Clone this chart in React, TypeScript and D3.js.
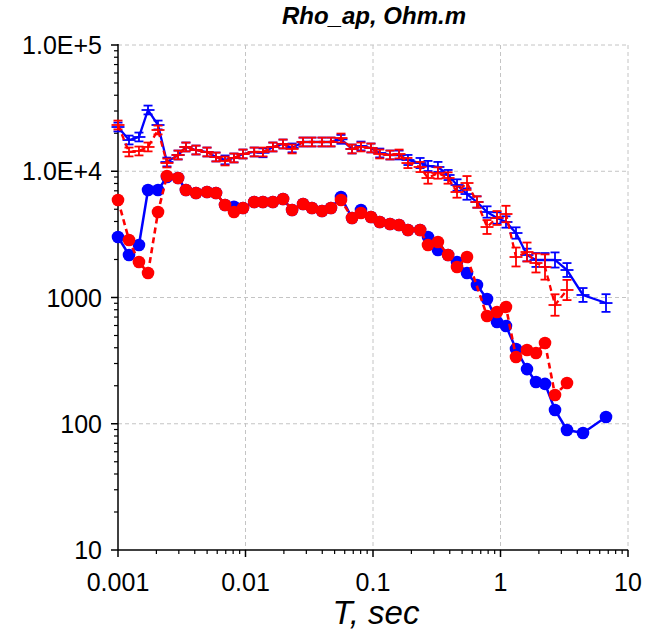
import React from 'react';
import * as d3 from 'd3';

const periods = [0.001, 0.00122, 0.00146, 0.00172, 0.00206, 0.00242, 0.00296, 0.00341, 0.00409, 0.00499, 0.00587, 0.00691, 0.00812, 0.00956, 0.0117, 0.0137, 0.0164, 0.0197, 0.0232, 0.0283, 0.0332, 0.0398, 0.0468, 0.0561, 0.0685, 0.0805, 0.0964, 0.113, 0.136, 0.160, 0.188, 0.234, 0.270, 0.323, 0.388, 0.456, 0.546, 0.654, 0.784, 0.939, 1.104, 1.323, 1.614, 1.898, 2.234, 2.676, 3.323, 4.437, 6.722];

const rhoBlueCircle = [3014, 2171, 2605, 7105, 7105, 9004, 8841, 7105, 6724, 6847, 6724, 5405, 5240, 5115, 5706, 5706, 5706, 6029, 4933, 5504, 5115, 4843, 5115, 6252, 4263, 4933, 4341, 3963, 3822, 3752, 3425, 3425, 3014, 2378, 2171, 1911, 1563, 1256, 973, 640, 595, 391, 271, 214, 207, 128.5, 89.2, 84.5, 113];

const rhoRedCircle: (number | null)[] = [5920, 2853, 1911, 1563, 4756, 9171, 8841, 7105, 6724, 6847, 6724, 5405, 4756, 5115, 5706, 5706, 5706, 6029, 4933, 5504, 5115, 4843, 5115, 5920, 4263, 4670, 4341, 3963, 3822, 3752, 3425, 3425, 2605, 2752, 2171, 1744, 2093, null, 714, 768, 841, 338, 384, 363, 436, 169, 210, null, null];

const rhoBluePlus = [22410, 17680, 18680, 30560, 23250, 11840, 13450, 15570, 14730, 14210, 12970, 12300, 12740, 13700, 14210, 14000, 15570, 16440, 15300, 17050, 17050, 17050, 17050, 17900, 15010, 15850, 15290, 13950, 13450, 13450, 12280, 11620, 11010, 10810, 9340, 7783, 6600, 5706, 4756, 4263, 3963, 3242, 2171, 1982, 1982, 1982, 1651, 1047, 904];

const rhoRedPlus: (number | null)[] = [23250, 14210, 14470, 15570, 21220, 11620, 13450, 15570, 14730, 14210, 12970, 12060, 12740, 13700, 14210, 14210, 15570, 16440, 15010, 17050, 17050, 17050, 17050, 18340, 15010, 15570, 15290, 13700, 13450, 13700, 11620, 10810, 8841, 9685, 8841, 6847, 8070, 5706, 3617, 4263, 4585, 2093, 2293, 1876, 1744, 872, 1147, null, null];

// error half-width in log10 units
const errBluePlus = [0.035, 0.035, 0.035, 0.035, 0.035, 0.035, 0.035, 0.035, 0.035, 0.035, 0.035, 0.035, 0.035, 0.035, 0.035, 0.035, 0.035, 0.035, 0.035, 0.035, 0.035, 0.035, 0.035, 0.035, 0.035, 0.035, 0.035, 0.035, 0.035, 0.035, 0.04, 0.04, 0.04, 0.04, 0.04, 0.045, 0.045, 0.045, 0.045, 0.045, 0.045, 0.045, 0.05, 0.055, 0.055, 0.06, 0.055, 0.055, 0.07];
const errRedPlus = [0.035, 0.035, 0.035, 0.035, 0.035, 0.035, 0.035, 0.035, 0.035, 0.035, 0.035, 0.035, 0.035, 0.035, 0.035, 0.035, 0.035, 0.035, 0.035, 0.035, 0.035, 0.035, 0.035, 0.035, 0.035, 0.035, 0.035, 0.035, 0.035, 0.035, 0.04, 0.04, 0.045, 0.045, 0.045, 0.045, 0.055, 0.045, 0.055, 0.055, 0.065, 0.075, 0.075, 0.075, 0.1, 0.085, 0.08, 0, 0];

const xTicks = [0.001, 0.01, 0.1, 1, 10];
const xTickLabels = ['0.001', '0.01', '0.1', '1', '10'];
const yTicks = [1e5, 1e4, 1000, 100, 10];
const yTickLabels = ['1.0E+5', '1.0E+4', '1000', '100', '10'];

const BLUE = '#0000ff';
const RED = '#ff0000';
const FONT = '"Liberation Sans", Arial, sans-serif';

type P = { t: number; v: number; e: number };

function build(vals: (number | null)[], errs?: number[]): P[] {
  const out: P[] = [];
  periods.forEach((t, i) => {
    const v = vals[i];
    if (v != null) out.push({ t, v, e: errs ? errs[i] : 0 });
  });
  return out;
}

export default function App() {
  const W = 649, H = 632;
  const L = 118, R = 628, T = 45, B = 550;
  const x = d3.scaleLog().domain([0.001, 10]).range([L, R]);
  const y = d3.scaleLog().domain([10, 1e5]).range([B, T]);
  const line = d3.line<P>().x(d => x(d.t)).y(d => y(d.v));

  const xMinor: number[] = [];
  for (let k = -3; k < 1; k++) for (let m = 2; m <= 9; m++) xMinor.push(m * Math.pow(10, k));
  const yMinor: number[] = [];
  for (let k = 1; k < 5; k++) for (let m = 2; m <= 9; m++) yMinor.push(m * Math.pow(10, k));

  const blueC = build(rhoBlueCircle);
  const redC = build(rhoRedCircle);
  const blueP = build(rhoBluePlus, errBluePlus);
  const redP = build(rhoRedPlus, errRedPlus);

  const plusMarks = (pts: P[], color: string) =>
    pts.map((d, i) => {
      const cx = x(d.t), cy = y(d.v);
      const y1 = y(d.v * Math.pow(10, d.e)), y2 = y(d.v / Math.pow(10, d.e));
      return (
        <g key={i} stroke={color} strokeWidth={1.8} fill="none">
          <line x1={cx - 6.5} x2={cx + 6.5} y1={cy} y2={cy} />
          <line x1={cx} x2={cx} y1={y1} y2={y2} />
          <line x1={cx - 4.5} x2={cx + 4.5} y1={y1} y2={y1} />
          <line x1={cx - 4.5} x2={cx + 4.5} y1={y2} y2={y2} />
        </g>
      );
    });

  return (
    <svg width={W} height={H} style={{ position: 'absolute', left: 0, top: 0, background: '#fff' }}>
      <rect x={0} y={0} width={W} height={H} fill="#fff" />
      {/* grid */}
      <g stroke="#c4c4c4" strokeWidth={1} strokeDasharray="4,3">
        {xTicks.slice(1).map((t, i) => (
          <line key={'gx' + i} x1={x(t)} x2={x(t)} y1={T} y2={B} />
        ))}
        {yTicks.slice(0, 4).map((t, i) => (
          <line key={'gy' + i} x1={L} x2={R} y1={y(t)} y2={y(t)} />
        ))}
      </g>
      {/* axes */}
      <g stroke="#000" strokeWidth={1.5}>
        <line x1={L} x2={L} y1={T - 1} y2={B} />
        <line x1={L} x2={R} y1={B} y2={B} />
        {xTicks.map((t, i) => (
          <line key={'xt' + i} x1={x(t)} x2={x(t)} y1={B} y2={B + 7} />
        ))}
        {xMinor.map((t, i) => (
          <line key={'xm' + i} x1={x(t)} x2={x(t)} y1={B} y2={B + 4} strokeWidth={1.2} />
        ))}
        {yTicks.map((t, i) => (
          <line key={'yt' + i} x1={L - 7} x2={L} y1={y(t)} y2={y(t)} />
        ))}
        {yMinor.map((t, i) => (
          <line key={'ym' + i} x1={L - 4} x2={L} y1={y(t)} y2={y(t)} strokeWidth={1.2} />
        ))}
      </g>
      {/* tick labels */}
      <g fontFamily={FONT} fontSize={25} fill="#000">
        {xTicks.map((t, i) => (
          <text key={'xl' + i} x={x(t)} y={591} textAnchor="middle">{xTickLabels[i]}</text>
        ))}
        {yTicks.map((t, i) => (
          <text key={'yl' + i} x={102} y={y(t) + 9} textAnchor="end">{yTickLabels[i]}</text>
        ))}
      </g>
      <text x={374} y={24} textAnchor="middle" fontFamily={FONT} fontSize={24} fontWeight="bold" fontStyle="italic">Rho_ap, Ohm.m</text>
      <text x={376} y={624} textAnchor="middle" fontFamily={FONT} fontSize={33} fontStyle="italic">T, sec</text>

      {/* plus series */}
      <path d={line(blueP) || ''} fill="none" stroke={BLUE} strokeWidth={2.3} />
      {plusMarks(blueP, BLUE)}
      <path d={line(redP) || ''} fill="none" stroke={RED} strokeWidth={2.3} strokeDasharray="6,4" />
      {plusMarks(redP, RED)}

      {/* circle series */}
      <path d={line(blueC) || ''} fill="none" stroke={BLUE} strokeWidth={2.5} />
      {blueC.map((d, i) => (
        <circle key={'bc' + i} cx={x(d.t)} cy={y(d.v)} r={6.3} fill={BLUE} />
      ))}
      <path d={line(redC) || ''} fill="none" stroke={RED} strokeWidth={2.6} strokeDasharray="6,4" />
      {redC.map((d, i) => (
        <circle key={'rc' + i} cx={x(d.t)} cy={y(d.v)} r={6.3} fill={RED} />
      ))}
    </svg>
  );
}
